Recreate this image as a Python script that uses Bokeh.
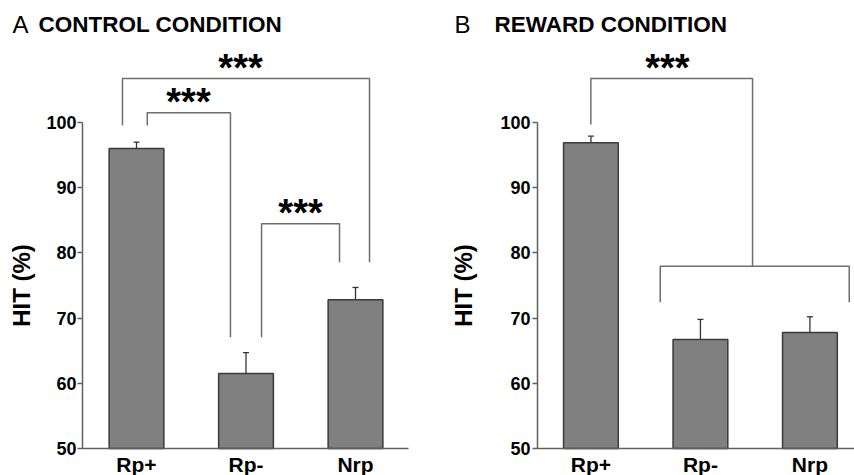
from bokeh.plotting import figure
from bokeh.models import (Range1d, FixedTicker, ColumnDataSource, Whisker, TeeHead,
                          LinearAxis)
from bokeh.core.properties import value
from bokeh.embed import file_html
from bokeh.resources import INLINE

# ---- data ----
categories = ["Rp+", "Rp-", "Nrp"]
control_hit = [96.0, 61.5, 72.8]
control_err = [1.0, 3.2, 1.9]
reward_hit = [96.9, 66.7, 67.8]
reward_err = [1.0, 3.1, 2.4]
y_ticks = [50, 60, 70, 80, 90, 100]

# x positions of the two panels' bars on the shared canvas scale
control_x = [0.0, 1.0, 2.0]
reward_x = [4.15, 5.15, 6.15]

# significance brackets: (x_left, x_right, y_top, y_left_end, y_right_end)
control_brackets = [
    (-0.128, 2.128, 106.75, 99.54, 78.57),
    (0.098, 0.858, 101.49, 99.54, 67.07),
    (1.142, 1.854, 84.46, 67.07, 78.57),
]
control_stars_x = [0.950, 0.475, 1.498]
control_stars_y = [108.3, 103.2, 86.1]
# reward: top bracket (x_left, x_stem, y_top, y_left_end, y_stem_end)
reward_top = (4.149, 5.626, 106.75, 99.69, 77.96)
# reward: lower bracket (x_left, x_right, y, y_ends)
reward_low = (4.783, 6.509, 77.96, 72.44)
reward_stars_x = [4.849]
reward_stars_y = [108.3]

FONT = "Liberation Sans"
BAR_FILL = "#808080"
BAR_LINE = "#3a3a3a"
BRACKET = "#6e6e6e"
AXIS = "#606060"

p = figure(width=854, height=475, output_backend="svg", toolbar_location=None,
           x_range=Range1d(-1.242, 6.557), y_range=Range1d(45.86, 118.71),
           x_axis_location=None, y_axis_location=None,
           min_border=0, min_border_left=0, min_border_right=0,
           min_border_top=0, min_border_bottom=0)
p.title.visible = False
p.outline_line_color = None
p.grid.visible = False
p.background_fill_color = "white"
p.border_fill_color = "white"


def add_panel(xs, vals, errs, y_axis_x, x_bounds, label_standoff, tick_standoff):
    p.vbar(x=xs, top=vals, bottom=50, width=0.5, fill_color=BAR_FILL,
           line_color=BAR_LINE, line_width=1.5)
    src = ColumnDataSource(dict(x=xs, upper=[v + e for v, e in zip(vals, errs)],
                                lower=[v - e for v, e in zip(vals, errs)]))
    p.add_layout(Whisker(source=src, base="x", upper="upper", lower="lower",
                         line_color="#333333", line_width=1.3,
                         upper_head=TeeHead(size=6, line_color="#333333", line_width=1.3),
                         lower_head=TeeHead(size=6, line_color="#333333", line_width=1.3)))

    ya = LinearAxis(fixed_location=y_axis_x, bounds=(50, 100),
                    ticker=FixedTicker(ticks=y_ticks))
    ya.axis_line_color = AXIS
    ya.axis_line_width = 1.5
    ya.major_tick_line_color = AXIS
    ya.major_tick_line_width = 1.5
    ya.major_tick_out = 5
    ya.major_tick_in = 0
    ya.minor_tick_line_color = None
    ya.minor_tick_out = 0
    ya.minor_tick_in = 0
    ya.major_label_standoff = tick_standoff
    ya.major_label_text_font = FONT
    ya.major_label_text_font_style = "bold"
    ya.major_label_text_font_size = "18px"
    ya.major_label_text_color = "black"
    ya.axis_label = "HIT (%)"
    ya.axis_label_text_font = FONT
    ya.axis_label_text_font_style = "bold"
    ya.axis_label_text_font_size = "24px"
    ya.axis_label_text_color = "black"
    ya.axis_label_standoff = label_standoff
    p.add_layout(ya, "left")

    xa = LinearAxis(fixed_location=50, bounds=x_bounds, ticker=FixedTicker(ticks=xs))
    xa.major_label_overrides = {x: c for x, c in zip(xs, categories)}
    xa.axis_line_color = AXIS
    xa.axis_line_width = 1.5
    xa.major_tick_line_color = None
    xa.major_tick_out = 0
    xa.major_tick_in = 0
    xa.minor_tick_line_color = None
    xa.minor_tick_out = 0
    xa.minor_tick_in = 0
    xa.major_label_standoff = 4
    xa.major_label_text_font = FONT
    xa.major_label_text_font_style = "bold"
    xa.major_label_text_font_size = "21px"
    xa.major_label_text_color = "black"
    p.add_layout(xa, "below")


add_panel(control_x, control_hit, control_err, -0.493, (-0.493, 2.484), 8, 1)
add_panel(reward_x, reward_hit, reward_err, 3.662, (3.662, 6.557), 20, 2)

# panel titles
p.text(x=[-1.132, 2.904], y=[115.03, 115.03], text=["A", "B"], text_font=value(FONT),
       text_font_size="24px", text_align="left", text_baseline="middle", text_color="black")
p.text(x=[-0.895, 3.269], y=[115.03, 115.03], text=["CONTROL CONDITION", "REWARD CONDITION"],
       text_font=value(FONT), text_font_style="bold", text_font_size="22.5px",
       text_align="left", text_baseline="middle", text_color="black")

# brackets
bx, by = [], []
for xl, xr, yt, yl, yr in control_brackets:
    bx.append([xl, xl, xr, xr])
    by.append([yl, yt, yt, yr])
xl, xs_, yt, yl, ys_ = reward_top
bx.append([xl, xl, xs_, xs_])
by.append([yl, yt, yt, ys_])
ll, lr, ly, le = reward_low
bx.append([ll, ll, lr, lr])
by.append([le, ly, ly, le])
p.multi_line(xs=bx, ys=by, line_color=BRACKET, line_width=1.5)

stars_x = control_stars_x + reward_stars_x
stars_y = control_stars_y + reward_stars_y
p.text(x=stars_x, y=stars_y, text=["***"] * len(stars_x), text_font=value(FONT),
       text_font_style="bold", text_font_size="38px", text_align="center",
       text_baseline="middle", text_color="black")

open("out.html", "w").write(file_html(p, INLINE))
